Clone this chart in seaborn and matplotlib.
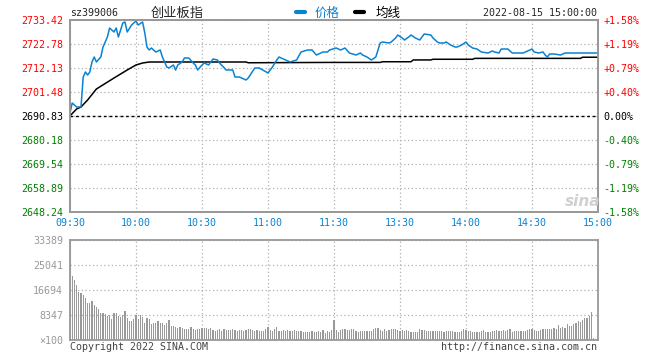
import matplotlib
matplotlib.use('Agg')
import matplotlib.pyplot as plt
import numpy as np
import pandas as pd
import seaborn as sns

sns.set_style('white')
plt.rcParams['font.family'] = ['DejaVu Sans Mono', 'Noto Sans CJK SC']

# ---- data ----
prev_close = 2690.83
price_ticks = [2733.42, 2722.78, 2712.13, 2701.48, 2690.83, 2680.18, 2669.54, 2658.89, 2648.24]
pct_labels = ['+1.58%', '+1.19%', '+0.79%', '+0.40%', '0.00%', '-0.40%', '-0.79%', '-1.19%', '-1.58%']
time_ticks = [0, 30, 60, 90, 120, 150, 180, 210, 240]
time_labels = ['09:30', '10:00', '10:30', '11:00', '11:30', '13:30', '14:00', '14:30', '15:00']
vol_ticks = [33389, 25041, 16694, 8347, 0]
vol_labels = ['33389', '25041', '16694', '8347', '×100']

# minute index (0..240) and price
price_min = [0, 1, 3, 5, 6, 7, 8, 9, 10, 11, 12, 14, 15, 17, 18, 20, 21, 22, 24, 25, 26, 28, 30,
             31, 33, 34, 35, 36, 37, 39, 41, 42, 44, 45, 47, 48, 49, 51, 52, 54, 56, 57, 58, 60,
             61, 63, 65, 67, 68, 71, 74, 75, 77, 80, 81, 84, 86, 90, 92, 94, 95, 98, 100, 103,
             105, 108, 110, 112, 115, 117, 118, 121, 123, 125, 127, 130, 132, 133, 135, 137, 139,
             141, 142, 145, 146, 148, 149, 151, 152, 154, 155, 157, 159, 161, 164, 165, 167, 168,
             170, 171, 173, 175, 176, 178, 180, 181, 183, 185, 187, 190, 192, 193, 195, 196, 199,
             201, 204, 206, 208, 210, 211, 213, 215, 216, 217, 218, 220, 223, 225, 227, 230, 232,
             236, 240]
price_val = [2692.16, 2696.59, 2694.82, 2694.82, 2708.13, 2710.35, 2709.02, 2710.35, 2714.79,
             2717.00, 2714.79, 2717.00, 2721.44, 2725.88, 2729.87, 2728.10, 2729.87, 2725.88,
             2732.09, 2732.53, 2728.10, 2731.20, 2732.98, 2731.20, 2732.53, 2727.65, 2721.44,
             2720.11, 2721.00, 2719.22, 2720.11, 2717.00, 2712.57, 2712.13, 2713.46, 2711.24,
             2713.46, 2714.79, 2716.56, 2716.56, 2714.34, 2713.46, 2711.24, 2713.46, 2714.34,
             2713.46, 2716.12, 2715.67, 2714.34, 2711.24, 2711.24, 2708.13, 2708.13, 2706.80,
             2707.69, 2712.13, 2712.13, 2709.91, 2712.57, 2715.67, 2717.00, 2715.67, 2714.79,
             2715.67, 2719.22, 2720.11, 2720.11, 2717.89, 2719.22, 2719.22, 2720.11, 2721.00,
             2720.11, 2721.00, 2718.78, 2717.89, 2718.78, 2717.89, 2717.00, 2715.67, 2717.00,
             2723.22, 2723.66, 2723.22, 2723.66, 2725.43, 2726.77, 2725.43, 2724.55, 2725.88,
             2726.77, 2725.43, 2724.55, 2727.21, 2726.77, 2725.43, 2723.66, 2723.22, 2723.22,
             2723.66, 2722.33, 2721.44, 2721.44, 2722.33, 2723.66, 2722.33, 2721.00, 2720.55,
             2719.22, 2718.78, 2719.67, 2719.22, 2718.78, 2720.55, 2720.55, 2718.78, 2718.78,
             2718.78, 2719.67, 2720.55, 2719.22, 2718.78, 2719.22, 2717.89, 2717.00, 2718.34,
             2718.34, 2717.89, 2718.78, 2718.78, 2718.78, 2718.78, 2718.78, 2718.78]

# average price line
avg_min = [0, 3, 5, 8, 12, 20, 26, 30, 33, 36, 80, 81, 118, 141, 142, 155, 156, 164, 165, 183,
           184, 232, 233, 240]
avg_val = [2690.90, 2693.94, 2694.82, 2697.93, 2702.81, 2707.69, 2711.24, 2713.46, 2714.34,
           2714.79, 2714.79, 2714.45, 2714.60, 2714.60, 2714.90, 2714.90, 2715.70, 2715.70,
           2716.00, 2716.00, 2716.40, 2716.40, 2716.90, 2716.90]

# volume per minute (x100)
vol_am = [35000,
          21370, 20030, 18370, 16140, 15810, 15030, 13910, 12240, 12240, 13130,
          11690, 11130, 10240, 9130, 8900, 8680, 8010, 8350, 6900, 9130,
          8900, 8010, 7570, 8350, 9570, 7240, 6460, 6460, 6900, 8350,
          6900, 8350, 7570, 5790, 7240, 6900, 5340, 5570, 5790, 6460,
          5570, 5790, 5010, 5570, 6680, 4680, 4680, 4230, 3900, 4450,
          3900, 3560, 3560, 3560, 4230, 3560, 3340, 3560,
          3670, 3900, 4120, 3900, 3670, 4120, 3340, 3120, 3340, 3560,
          3010, 3670, 3340, 3340, 3340, 3670, 3340, 3120, 3340, 3340,
          3120, 3340, 3560, 3670, 3340, 3120, 3340, 3010, 3120, 3120,
          3560, 4450, 3340, 3120, 3670, 4230, 3010, 3120, 3340, 3120,
          3340, 3120, 3120, 3340, 3010, 3010, 3010, 2560, 2780, 2560,
          2780, 3010, 2780, 2560, 3010, 2780, 3340, 2450, 3010, 2780, 3340]
vol_pm = [6680,
          3340, 2780, 3340, 3670, 3560, 3340, 3340, 3560, 3670, 3010,
          2780, 3010, 3010, 3010, 3120, 3120, 3120, 3560, 4120, 3900,
          3340, 3120, 3560, 3010, 3340, 3560, 3560, 3670, 3340, 3010,
          3340, 3120, 3340, 3010, 2780, 2780, 2780, 2780, 3670, 3340,
          3340, 3010, 3120, 3120, 3010, 3010, 3120, 3010, 3010, 2780,
          3010, 3120, 3120, 3010, 2780, 2780, 2780, 3010, 3670, 3340, 3010,
          3120, 2780, 2780, 2780, 2780, 3010, 3340, 2780, 2780, 2780,
          3120, 3010, 3340, 3120, 3010, 3340, 3010, 3340, 3670, 2780, 3010,
          3010, 3010, 3010, 3010, 3010, 3340, 3670, 3560, 3340, 3120,
          3010, 3340, 3560, 3560, 3670, 3670, 3670, 4120, 3670, 5010, 4120,
          4230, 4120, 5230, 4790, 4790, 5230, 5790, 6460, 6120, 6680,
          7230, 7230, 8010, 9240, 560, 0, 0]

vol_val = vol_am + vol_pm
vol_min = list(range(len(vol_val)))

# ---- colors ----
BLUE = '#0a82d2'
RED = '#ff0000'
GREEN = '#008000'
GRAY = '#999999'
GRID = '#b0b0b0'

W, H = 660, 360
fig = plt.figure(figsize=(W / 100, H / 100), dpi=100)


def rect(l, t, r, b):
    return [l / W, 1 - b / H, (r - l) / W, (b - t) / H]


ax = fig.add_axes(rect(70, 20, 598, 212))
axv = fig.add_axes(rect(70, 240, 598, 340))

# price panel
sns.lineplot(x=price_min, y=price_val, ax=ax, color=BLUE, lw=1.1, estimator=None, zorder=4)
sns.lineplot(x=avg_min, y=avg_val, ax=ax, color='black', lw=1.1, estimator=None, zorder=3)
ax.axhline(prev_close, color='black', ls=(0, (2, 2)), lw=1, zorder=2)

ax.set_xlim(0, 240)
ax.set_ylim(price_ticks[-1], price_ticks[0])
ax.set_xticks(time_ticks)
ax.set_xticklabels(time_labels, color=BLUE, fontsize=7.2)
ax.set_yticks(price_ticks)
ax.set_yticklabels(['%.2f' % t for t in price_ticks], fontsize=7.2)
for lbl, t in zip(ax.get_yticklabels(), price_ticks):
    lbl.set_color(RED if t > prev_close else ('black' if t == prev_close else GREEN))
ax.grid(True, color=GRID, ls=(0, (1, 2)), lw=0.9)
ax.tick_params(length=0, pad=5)
ax.tick_params(axis='x', pad=4)

axr = ax.twinx()
axr.set_ylim(price_ticks[-1], price_ticks[0])
axr.set_yticks(price_ticks)
axr.set_yticklabels(pct_labels, fontsize=7.2)
for lbl, t in zip(axr.get_yticklabels(), price_ticks):
    lbl.set_color(RED if t > prev_close else ('black' if t == prev_close else GREEN))
axr.tick_params(length=0, pad=4)

for a in (ax, axr, axv):
    for s in a.spines.values():
        s.set_color(GRAY)
        s.set_linewidth(1.3)

# volume panel
sns.barplot(x=vol_min, y=vol_val, ax=axv, native_scale=True, color=GRAY, saturation=1,
            width=0.5, linewidth=0, zorder=3)
axv.set_xlim(0, 240)
axv.set_ylim(0, vol_ticks[0])
axv.set_xticks(time_ticks)
axv.set_xticklabels([])
axv.set_yticks(vol_ticks)
axv.set_yticklabels(vol_labels, color=GRAY, fontsize=7.2)
axv.set_xlabel('')
axv.set_ylabel('')
axv.grid(True, color=GRID, ls=(0, (1, 2)), lw=0.9)
axv.tick_params(length=0, pad=5)

# header
fig.text(70 / W, 1 - 13 / H, 'sz399006', fontsize=7.2, va='center', ha='left')
fig.text(177 / W, 1 - 13 / H, '创业板指', fontsize=9.5, va='center', ha='center',
         family=['Noto Sans CJK SC', 'DejaVu Sans'])
fig.lines.append(plt.Line2D([296 / W, 305 / W], [1 - 12 / H, 1 - 12 / H], color=BLUE, lw=3,
                            transform=fig.transFigure))
fig.text(315 / W, 1 - 13 / H, '价格', fontsize=9, va='center', ha='left', color=BLUE,
         family=['Noto Sans CJK SC', 'DejaVu Sans'])
fig.lines.append(plt.Line2D([355 / W, 364 / W], [1 - 12 / H, 1 - 12 / H], color='black', lw=3,
                            transform=fig.transFigure))
fig.text(376 / W, 1 - 13 / H, '均线', fontsize=9, va='center', ha='left', color='black',
         family=['Noto Sans CJK SC', 'DejaVu Sans'])
fig.text(597 / W, 1 - 13 / H, '2022-08-15 15:00:00', fontsize=7.2, va='center', ha='right')

# watermark
fig.text(583 / W, 1 - 201 / H, 'sina', fontsize=11, style='italic', weight='bold',
         color='#d0d0d0', va='center', ha='center', family='DejaVu Sans')

# footer
fig.text(70 / W, 1 - 347 / H, 'Copyright 2022 SINA.COM', fontsize=7.2, va='center', ha='left',
         color='#444444')
fig.text(597 / W, 1 - 347 / H, 'http://finance.sina.com.cn', fontsize=7.2, va='center',
         ha='right', color='#444444')

fig.savefig('out.png', dpi=100)
